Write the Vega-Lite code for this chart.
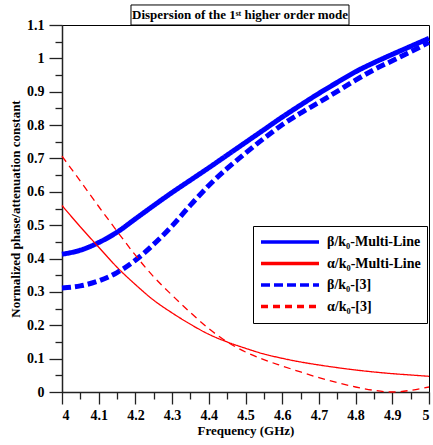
{
  "$schema": "https://vega.github.io/schema/vega-lite/v6.json",
  "width": 367,
  "height": 367,
  "autosize": {"type": "none"},
  "padding": {"left": 62, "top": 25, "right": 4, "bottom": 53},
  "datasets": {
    "curves": [
      {"f": 4.00, "v": 0.413, "s": "β/k₀-Multi-Line"},
      {"f": 4.05, "v": 0.425, "s": "β/k₀-Multi-Line"},
      {"f": 4.10, "v": 0.448, "s": "β/k₀-Multi-Line"},
      {"f": 4.15, "v": 0.479, "s": "β/k₀-Multi-Line"},
      {"f": 4.20, "v": 0.519, "s": "β/k₀-Multi-Line"},
      {"f": 4.25, "v": 0.559, "s": "β/k₀-Multi-Line"},
      {"f": 4.30, "v": 0.598, "s": "β/k₀-Multi-Line"},
      {"f": 4.35, "v": 0.635, "s": "β/k₀-Multi-Line"},
      {"f": 4.40, "v": 0.672, "s": "β/k₀-Multi-Line"},
      {"f": 4.45, "v": 0.710, "s": "β/k₀-Multi-Line"},
      {"f": 4.50, "v": 0.748, "s": "β/k₀-Multi-Line"},
      {"f": 4.55, "v": 0.786, "s": "β/k₀-Multi-Line"},
      {"f": 4.60, "v": 0.824, "s": "β/k₀-Multi-Line"},
      {"f": 4.65, "v": 0.860, "s": "β/k₀-Multi-Line"},
      {"f": 4.70, "v": 0.895, "s": "β/k₀-Multi-Line"},
      {"f": 4.75, "v": 0.928, "s": "β/k₀-Multi-Line"},
      {"f": 4.80, "v": 0.960, "s": "β/k₀-Multi-Line"},
      {"f": 4.85, "v": 0.987, "s": "β/k₀-Multi-Line"},
      {"f": 4.90, "v": 1.012, "s": "β/k₀-Multi-Line"},
      {"f": 4.95, "v": 1.036, "s": "β/k₀-Multi-Line"},
      {"f": 5.00, "v": 1.060, "s": "β/k₀-Multi-Line"},
      {"f": 4.00, "v": 0.559, "s": "α/k₀-Multi-Line"},
      {"f": 4.05, "v": 0.495, "s": "α/k₀-Multi-Line"},
      {"f": 4.10, "v": 0.434, "s": "α/k₀-Multi-Line"},
      {"f": 4.15, "v": 0.374, "s": "α/k₀-Multi-Line"},
      {"f": 4.20, "v": 0.322, "s": "α/k₀-Multi-Line"},
      {"f": 4.25, "v": 0.275, "s": "α/k₀-Multi-Line"},
      {"f": 4.30, "v": 0.237, "s": "α/k₀-Multi-Line"},
      {"f": 4.35, "v": 0.203, "s": "α/k₀-Multi-Line"},
      {"f": 4.40, "v": 0.173, "s": "α/k₀-Multi-Line"},
      {"f": 4.45, "v": 0.150, "s": "α/k₀-Multi-Line"},
      {"f": 4.50, "v": 0.131, "s": "α/k₀-Multi-Line"},
      {"f": 4.55, "v": 0.114, "s": "α/k₀-Multi-Line"},
      {"f": 4.60, "v": 0.101, "s": "α/k₀-Multi-Line"},
      {"f": 4.65, "v": 0.090, "s": "α/k₀-Multi-Line"},
      {"f": 4.70, "v": 0.081, "s": "α/k₀-Multi-Line"},
      {"f": 4.75, "v": 0.073, "s": "α/k₀-Multi-Line"},
      {"f": 4.80, "v": 0.066, "s": "α/k₀-Multi-Line"},
      {"f": 4.85, "v": 0.060, "s": "α/k₀-Multi-Line"},
      {"f": 4.90, "v": 0.055, "s": "α/k₀-Multi-Line"},
      {"f": 4.95, "v": 0.051, "s": "α/k₀-Multi-Line"},
      {"f": 5.00, "v": 0.047, "s": "α/k₀-Multi-Line"},
      {"f": 4.00, "v": 0.312, "s": "β/k₀-[3]"},
      {"f": 4.05, "v": 0.318, "s": "β/k₀-[3]"},
      {"f": 4.10, "v": 0.333, "s": "β/k₀-[3]"},
      {"f": 4.15, "v": 0.358, "s": "β/k₀-[3]"},
      {"f": 4.20, "v": 0.395, "s": "β/k₀-[3]"},
      {"f": 4.25, "v": 0.443, "s": "β/k₀-[3]"},
      {"f": 4.30, "v": 0.498, "s": "β/k₀-[3]"},
      {"f": 4.35, "v": 0.560, "s": "β/k₀-[3]"},
      {"f": 4.40, "v": 0.619, "s": "β/k₀-[3]"},
      {"f": 4.45, "v": 0.670, "s": "β/k₀-[3]"},
      {"f": 4.50, "v": 0.716, "s": "β/k₀-[3]"},
      {"f": 4.55, "v": 0.760, "s": "β/k₀-[3]"},
      {"f": 4.60, "v": 0.801, "s": "β/k₀-[3]"},
      {"f": 4.65, "v": 0.836, "s": "β/k₀-[3]"},
      {"f": 4.70, "v": 0.868, "s": "β/k₀-[3]"},
      {"f": 4.75, "v": 0.901, "s": "β/k₀-[3]"},
      {"f": 4.80, "v": 0.935, "s": "β/k₀-[3]"},
      {"f": 4.85, "v": 0.966, "s": "β/k₀-[3]"},
      {"f": 4.90, "v": 0.993, "s": "β/k₀-[3]"},
      {"f": 4.95, "v": 1.020, "s": "β/k₀-[3]"},
      {"f": 5.00, "v": 1.048, "s": "β/k₀-[3]"},
      {"f": 4.00, "v": 0.707, "s": "α/k₀-[3]"},
      {"f": 4.05, "v": 0.632, "s": "α/k₀-[3]"},
      {"f": 4.10, "v": 0.556, "s": "α/k₀-[3]"},
      {"f": 4.15, "v": 0.482, "s": "α/k₀-[3]"},
      {"f": 4.20, "v": 0.410, "s": "α/k₀-[3]"},
      {"f": 4.25, "v": 0.345, "s": "α/k₀-[3]"},
      {"f": 4.30, "v": 0.290, "s": "α/k₀-[3]"},
      {"f": 4.35, "v": 0.238, "s": "α/k₀-[3]"},
      {"f": 4.40, "v": 0.190, "s": "α/k₀-[3]"},
      {"f": 4.45, "v": 0.150, "s": "α/k₀-[3]"},
      {"f": 4.50, "v": 0.120, "s": "α/k₀-[3]"},
      {"f": 4.55, "v": 0.097, "s": "α/k₀-[3]"},
      {"f": 4.60, "v": 0.078, "s": "α/k₀-[3]"},
      {"f": 4.65, "v": 0.060, "s": "α/k₀-[3]"},
      {"f": 4.70, "v": 0.043, "s": "α/k₀-[3]"},
      {"f": 4.75, "v": 0.028, "s": "α/k₀-[3]"},
      {"f": 4.80, "v": 0.015, "s": "α/k₀-[3]"},
      {"f": 4.85, "v": 0.005, "s": "α/k₀-[3]"},
      {"f": 4.90, "v": 0.000, "s": "α/k₀-[3]"},
      {"f": 4.95, "v": 0.005, "s": "α/k₀-[3]"},
      {"f": 5.00, "v": 0.015, "s": "α/k₀-[3]"}
    ]
  },
  "layer": [
    {
      "mark": {"type": "rule", "color": "black", "strokeWidth": 1},
      "encoding": {
        "y": {
          "datum": 1,
          "type": "quantitative",
          "scale": {"domain": [0, 1.1], "nice": false},
          "axis": {"orient": "left", "values": [0.05, 0.15, 0.25, 0.35, 0.45, 0.55, 0.65, 0.75, 0.85, 0.95, 1.05], "labels": false, "domain": false, "tickSize": 7, "title": null}
        },
        "x": {
          "datum": 4,
          "type": "quantitative",
          "scale": {"domain": [4, 5], "nice": false},
          "axis": {"orient": "bottom", "values": [4.05, 4.15, 4.25, 4.35, 4.45, 4.55, 4.65, 4.75, 4.85, 4.95], "labels": false, "domain": false, "tickSize": 7, "title": null}
        },
        "x2": {"datum": 5}
      }
    },
    {
      "data": {"name": "curves"},
      "mark": {"type": "line", "interpolate": "monotone", "strokeCap": "butt"},
      "encoding": {
        "x": {
          "field": "f",
          "type": "quantitative",
          "scale": {"domain": [4, 5], "nice": false},
          "axis": {"orient": "bottom", "values": [4, 4.1, 4.2, 4.3, 4.4, 4.5, 4.6, 4.7, 4.8, 4.9, 5], "format": "~g", "tickSize": 12, "labelPadding": 4, "titlePadding": 2, "title": "Frequency (GHz)"}
        },
        "y": {
          "field": "v",
          "type": "quantitative",
          "scale": {"domain": [0, 1.1], "nice": false},
          "axis": {"orient": "left", "values": [0, 0.1, 0.2, 0.3, 0.4, 0.5, 0.6, 0.7, 0.8, 0.9, 1, 1.1], "format": ".1~f", "tickSize": 13, "labelPadding": 5, "titlePadding": 4, "title": "Normalized phase/attenuation constant"}
        },
        "color": {
          "field": "s",
          "type": "nominal",
          "scale": {"domain": ["β/k₀-Multi-Line", "α/k₀-Multi-Line", "β/k₀-[3]", "α/k₀-[3]"], "range": ["#0000ff", "#ff0000", "#0000ff", "#ff0000"]},
          "legend": {"title": null}
        },
        "strokeDash": {
          "field": "s",
          "type": "nominal",
          "scale": {"domain": ["β/k₀-Multi-Line", "α/k₀-Multi-Line", "β/k₀-[3]", "α/k₀-[3]"], "range": [[1, 0], [1, 0], [9, 4], [7, 5]]},
          "legend": {"title": null}
        },
        "strokeWidth": {
          "condition": {"test": "indexof(datum.s, 'β') >= 0", "value": 5},
          "value": 1.3
        }
      }
    },
    {
      "data": {"values": [{}]},
      "mark": {"type": "rect", "fill": "transparent", "stroke": "black", "strokeWidth": 1, "clip": false},
      "encoding": {
        "x": {"datum": 4.188, "type": "quantitative", "axis": null},
        "x2": {"datum": 4.782},
        "y": {"datum": 1.1, "type": "quantitative", "axis": null},
        "y2": {"datum": 1.16}
      }
    },
    {
      "data": {"values": [{}]},
      "mark": {"type": "text", "font": "Times New Roman", "fontSize": 13, "fontWeight": "bold", "baseline": "middle", "align": "center", "color": "black", "clip": false, "text": "Dispersion of the 1ˢᵗ higher order mode"},
      "encoding": {
        "x": {"datum": 4.485, "type": "quantitative", "axis": null},
        "y": {"datum": 1.13, "type": "quantitative", "axis": null}
      }
    }
  ],
  "resolve": {"axis": {"x": "independent", "y": "independent"}},
  "config": {
    "font": "Times New Roman",
    "view": {"stroke": "black", "strokeWidth": 1},
    "axis": {
      "grid": false,
      "labelFont": "Times New Roman",
      "labelFontWeight": "bold",
      "labelFontSize": 14,
      "labelColor": "black",
      "titleFont": "Times New Roman",
      "titleFontWeight": "bold",
      "titleFontSize": 13,
      "titleColor": "black",
      "domainColor": "#222",
      "domainWidth": 1.5,
      "tickColor": "#222",
      "tickWidth": 1.3
    },
    "legend": {
      "orient": "none",
      "legendX": 191,
      "legendY": 201,
      "fillColor": "white",
      "strokeColor": "black",
      "padding": 6,
      "symbolType": "stroke",
      "symbolSize": 3364,
      "symbolStrokeWidth": 3.5,
      "clipHeight": 20,
      "labelFont": "Times New Roman",
      "labelFontWeight": "bold",
      "labelFontSize": 14,
      "labelColor": "black",
      "labelOffset": 6,
      "rowPadding": 1.5
    }
  }
}
